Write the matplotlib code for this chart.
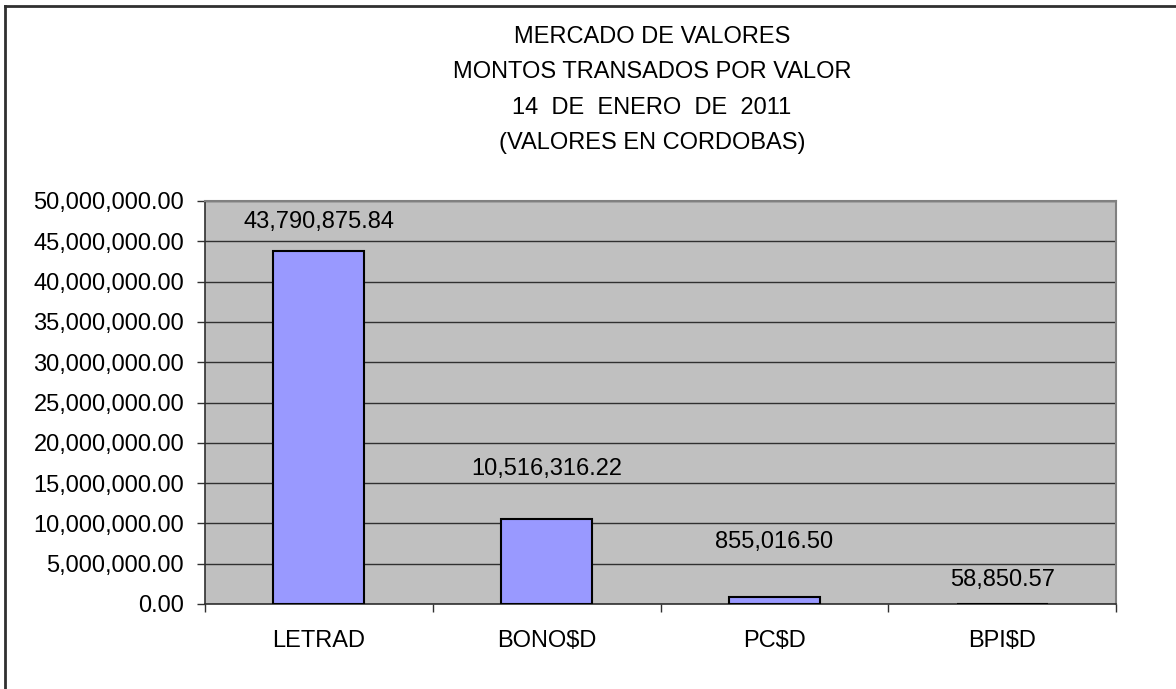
import numpy as np
import matplotlib.pyplot as plt
from matplotlib.ticker import FuncFormatter, FixedLocator

plt.rcParams['font.family'] = ['Liberation Sans', 'DejaVu Sans']

# datos
valores = ['LETRAD', 'BONO$D', 'PC$D', 'BPI$D']
montos = [43790875.84, 10516316.22, 855016.50, 58850.57]
titulo = ['MERCADO DE VALORES', 'MONTOS TRANSADOS POR VALOR',
          '14  DE  ENERO  DE  2011', '(VALORES EN CORDOBAS)']

fig = plt.figure(figsize=(11.76, 6.89), dpi=100)
ax = fig.add_axes([205 / 1176, 1 - 604 / 689, (1116 - 205) / 1176, (604 - 201) / 689])

x = np.arange(len(valores))
ax.bar(x, montos, width=0.40, color='#9999FF', edgecolor='black', linewidth=1.5, zorder=3)

ax.set_facecolor('#C0C0C0')
ax.set_xlim(-0.5, len(valores) - 0.5)
ax.set_ylim(0, 50000000)
ax.set_yticks(np.arange(0, 50000001, 5000000))
ax.yaxis.set_major_formatter(FuncFormatter(lambda v, p: f'{v:,.2f}'))
ax.grid(axis='y', color='#303030', linewidth=1, zorder=1)

ax.set_xticks(x)
ax.set_xticklabels(valores)
ax.tick_params(axis='x', length=0, pad=19, labelsize=17)
ax.xaxis.set_minor_locator(FixedLocator(np.arange(-0.5, len(valores), 1)))
ax.tick_params(axis='x', which='minor', length=6, width=1, direction='out', color='#303030')
ax.tick_params(axis='y', length=6, width=1, direction='out', labelsize=17, pad=9, color='#303030')

for s in ['top', 'right']:
    ax.spines[s].set_color('#808080')
    ax.spines[s].set_linewidth(1.5)
for s in ['left', 'bottom']:
    ax.spines[s].set_color('#303030')
    ax.spines[s].set_linewidth(1.2)

# etiquetas de datos
desfase = [21, 36, 40, 17]
for xi, m, d in zip(x, montos, desfase):
    ax.annotate(f'{m:,.2f}', (xi, m), xytext=(0, d), textcoords='offset points',
                ha='center', va='center', fontsize=17)

for i, t in enumerate(titulo):
    fig.text(652 / 1176, 1 - (37 + 35.3 * i) / 689, t, ha='center', va='center', fontsize=17)

# borde del grafico
fig.add_artist(plt.Line2D([5 / 1176, 5 / 1176], [0, 1 - 6 / 689], color='#303030', linewidth=2))
fig.add_artist(plt.Line2D([5 / 1176, 1], [1 - 6 / 689, 1 - 6 / 689], color='#303030', linewidth=2))

fig.savefig('out.png', dpi=100)
